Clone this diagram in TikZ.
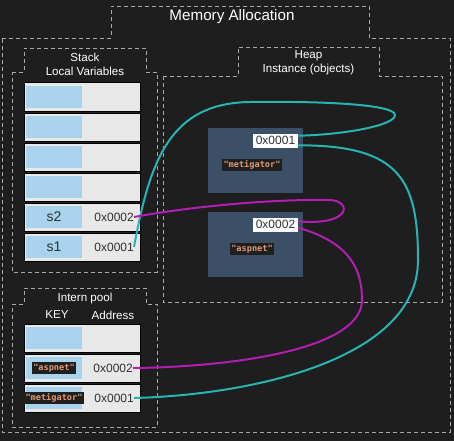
\documentclass[tikz,border=0pt]{standalone}
\usepackage{fontspec}
\setmainfont{Liberation Sans}
\newfontfamily\codefont{DejaVu Sans Mono}
\usetikzlibrary{calc}
\definecolor{bgdark}{HTML}{1E1E1E}
\definecolor{framegrey}{HTML}{A8A8A8}
\definecolor{cellgrey}{HTML}{E8E8E8}
\definecolor{keyblue}{HTML}{A9D3EC}
\definecolor{heapblue}{HTML}{3B4F66}
\definecolor{textdark}{HTML}{303030}
\definecolor{strorange}{HTML}{E39A72}
\definecolor{linkteal}{HTML}{27B5B3}
\definecolor{linkmagenta}{HTML}{B21DB2}

\begin{document}
\begin{tikzpicture}[x=1pt,y=-1pt,
	frame/.style={draw=framegrey,dash pattern=on 4pt off 3pt,line width=0.9pt},
	heading/.style={text=white,align=center,font=\fontsize{11.6}{14}\selectfont},
	slot/.style={draw=black,line width=1pt,fill=cellgrey,minimum width=116pt,minimum height=28pt,inner sep=0pt},
	keycell/.style={fill=keyblue,minimum width=56pt,minimum height=22pt,inner sep=0pt},
	varname/.style={text=textdark,font=\fontsize{14}{16}\selectfont},
	addr/.style={text=textdark,anchor=east,inner sep=0pt,font=\fontsize{12}{14}\selectfont},
	str/.style={fill=black!88,text=strorange,inner sep=1.5pt,font=\codefont\bfseries\fontsize{8.6}{9}\selectfont},
	object/.style={fill=heapblue,minimum width=95pt,minimum height=65pt,inner sep=0pt},
	ref/.style={fill=white,text=textdark,minimum width=45pt,minimum height=14pt,inner sep=0pt,font=\fontsize{12}{14}\selectfont},
	teal/.style={draw=linkteal,line width=2pt},
	magenta/.style={draw=linkmagenta,line width=2pt},
	]
	\fill[bgdark] (0,0) rectangle (454,441);
	\useasboundingbox (0,0) rectangle (454,441);
	\draw[frame] (2,38) -- (111,38) -- (111,6) -- (369,6) -- (369,38) -- (450,38) -- (450,432) -- (2,432) -- cycle;
	\draw[frame] (12,72) -- (24,72) -- (24,48) -- (146,48) -- (146,72) -- (157,72) -- (157,272) -- (12,272) -- cycle;
	\draw[frame] (163,76) -- (238,76) -- (238,47) -- (379,47) -- (379,76) -- (442,76) -- (442,302) -- (163,302) -- cycle;
	\draw[frame] (12,304) -- (24,304) -- (24,288) -- (146,288) -- (146,304) -- (157,304) -- (157,427) -- (12,427) -- cycle;
	\node[text=white,font=\fontsize{15.2}{17}\selectfont] (title) at (232,17) {Memory Allocation};
	\node[heading] (stack) at (85,64) {Stack\\Local Variables};
	\node[heading] (heap) at (308.5,63) {Heap\\Instance (objects)};
	\node[heading] (pool) at (85,298) {Intern pool};
	\node[heading] (keyhead) at (57,315) {KEY};
	\node[heading] (addrhead) at (113,315) {Address};
	\foreach \i/\y in {1/97,2/127,3/157,4/187,5/217,6/247,7/338,8/368,9/398}{
		\node[slot] (row\i) at (82,\y) {};
		\node[keycell] (key\i) at (54,\y) {};
	}
	\node[varname] (s2) at (key5) {s2};
	\node[varname] (s1) at (key6) {s1};
	\node[addr] (vS2) at (134,217) {0x0002};
	\node[addr] (vS1) at (134,247) {0x0001};
	\node[str] (kA) at (key8) {"aspnet"};
	\node[str] (kM) at (key9) {"metigator"};
	\node[addr] (vA) at (133,368) {0x0002};
	\node[addr] (vM) at (134,398) {0x0001};
	\node[object] (obj1) at (255.5,160.5) {};
	\node[object] (obj2) at (255.5,244) {};
	\node[ref] (a1) at (275.5,140.5) {0x0001};
	\node[ref] (a2) at (275.5,224.5) {0x0002};
	\node[str] (m1) at (252,165) {"metigator"};
	\node[str] (m2) at (252,249) {"aspnet"};
	\draw[teal] (vS1.east) .. controls (150,160) and (170,103) .. (250,102) .. controls (330,101) and (395,105) .. (395,115) .. controls (395,126) and (340,135) .. (a1.12);
	\draw[teal] (a1.-12) .. controls (400,145) and (418,180) .. (418,260) .. controls (418,360) and (250,395) .. (vM.east);
	\draw[magenta] (vS2.east) .. controls (200,205) and (280,199) .. (330,200) .. controls (352,201) and (352,226) .. (a2.8);
	\draw[magenta] (a2.-8) .. controls (340,240) and (362,260) .. (362,300) .. controls (362,350) and (230,367) .. (vA.east);
\end{tikzpicture}
\end{document}
